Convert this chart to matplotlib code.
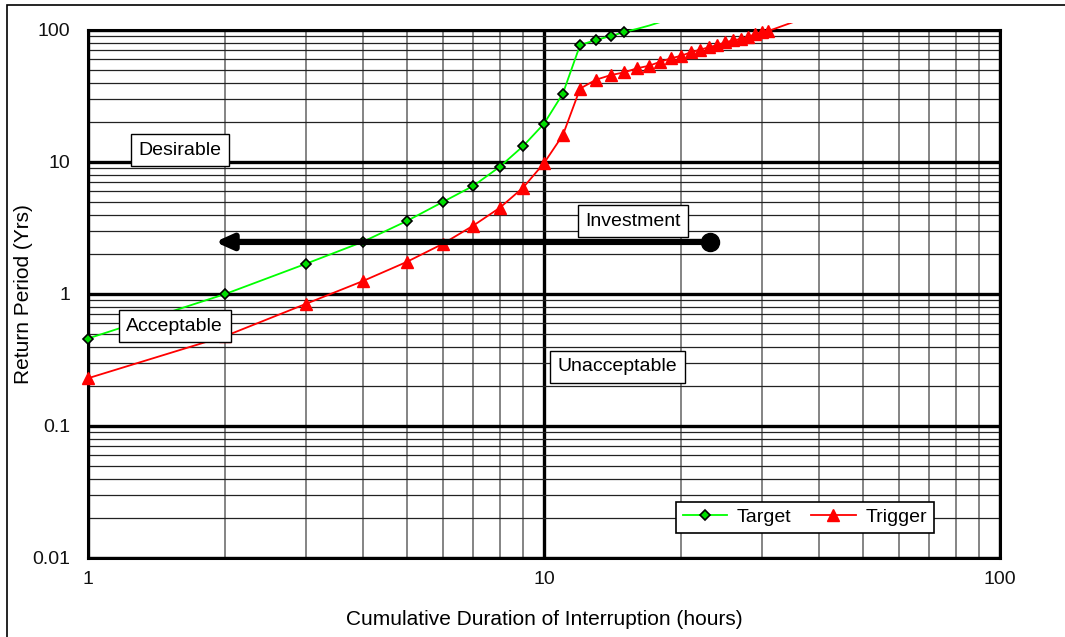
import matplotlib
matplotlib.use("Agg")
import matplotlib.pyplot as plt
from matplotlib.patches import Rectangle

plt.rcParams['font.family'] = ['Liberation Sans', 'DejaVu Sans']

# data
target_hours = [1, 2, 3, 4, 5, 6, 7, 8, 9, 10, 11, 12, 13, 14, 15]
target_period = [0.46, 1.0, 1.69, 2.48, 3.57, 4.98, 6.6, 9.2, 13.2, 19.5, 33, 77, 84, 90, 96.5]
# line carries on past the top edge
target_tail_hours = [15, 16, 17, 18]
target_tail_period = [96.5, 102, 108, 115]

trigger_hours = [1, 2, 3, 4, 5, 6, 7, 8, 9, 10, 11, 12, 13, 14,
                 15, 16, 17, 18, 19, 20, 21, 22, 23, 24, 25, 26, 27, 28, 29, 30, 31]
trigger_period = [0.23, 0.48, 0.84, 1.25, 1.75, 2.4, 3.3, 4.5, 6.4, 9.8, 16, 36, 42, 45.5,
                  47.8, 51.3, 53.6, 57.5, 61.0, 63.9, 67.8, 71.0, 74.0, 77.0, 80.7, 83.6,
                  85.5, 88.5, 92.8, 96.1, 98.3]
trigger_tail_hours = [31, 32, 33, 34, 35]
trigger_tail_period = [98.3, 102, 106, 110, 114]

arrow_start = (23.1, 2.48)
arrow_end = (1.9, 2.48)

fig = plt.figure(figsize=(10.65, 6.37), dpi=100)
ax = fig.add_axes([88 / 1065, 1 - 558 / 637, 912 / 1065, 528 / 637])

# outer chart border
fig.patches.append(Rectangle((7 / 1065, 1 - 5 / 637 - 1.0), 1.2, 1.0, transform=fig.transFigure,
                             fill=False, edgecolor='black', linewidth=1.2))

ax.set_xscale('log')
ax.set_yscale('log')
ax.set_xlim(1, 100)
ax.set_ylim(0.01, 100)

ax.grid(which='major', color='black', linewidth=2.4, zorder=1)
ax.grid(which='minor', axis='x', color='#707070', linewidth=1.2, zorder=1)
ax.grid(which='minor', axis='y', color='#222222', linewidth=0.9, zorder=1)
ax.set_axisbelow(True)
for s in ax.spines.values():
    s.set_linewidth(2.2)
    s.set_color('black')

ax.set_xticks([1, 10, 100])
ax.set_xticklabels(['1', '10', '100'])
ax.set_yticks([0.01, 0.1, 1, 10, 100])
ax.set_yticklabels(['0.01', '0.1', '1', '10', '100'])
ax.tick_params(which='both', length=0, labelsize=14, colors='#111111')
ax.tick_params(axis='x', pad=9)
ax.tick_params(axis='y', pad=13)
ax.minorticks_on()
ax.tick_params(which='minor', length=0)

ax.set_xlabel('Cumulative Duration of Interruption (hours)', fontsize=15, labelpad=16)
ax.set_ylabel('Return Period (Yrs)', fontsize=15)
ax.yaxis.set_label_coords(-55 / 912, 0.5)

# tails that run off the top edge (clipped a little above the axes)
clip = Rectangle((0, 0), 1, 1.014, transform=ax.transAxes, visible=False)
ax.add_patch(clip)
l1, = ax.plot(target_tail_hours, target_tail_period, color='#00ff00', lw=1.3, zorder=3)
l2, = ax.plot(trigger_tail_hours, trigger_tail_period, color='#ff0000', lw=1.3, zorder=3)
for ln in (l1, l2):
    ln.set_clip_path(clip)

ax.plot(trigger_hours, trigger_period, color='#ff0000', lw=1.3, marker='^', ms=8.5,
        mfc='#ff0000', mec='#ff0000', label='Trigger', zorder=4, clip_on=False)
ax.plot(target_hours, target_period, color='#00ff00', lw=1.3, marker='D', ms=5.5,
        mfc='#00dd00', mec='black', mew=1.2, label='Target', zorder=5, clip_on=False)

# investment arrow
ax.annotate('', xy=arrow_end, xytext=arrow_start,
            arrowprops=dict(arrowstyle='-|>,head_length=1.0,head_width=0.45',
                            color='black', lw=4.5, shrinkA=0, shrinkB=0), zorder=6)
ax.plot([arrow_start[0]], [arrow_start[1]], 'o', color='black', ms=13, zorder=7)

box = dict(boxstyle='square,pad=0.38', facecolor='white', edgecolor='black', linewidth=1.0)
ax.text(1.59, 12.3, 'Desirable', fontsize=14, ha='center', va='center', bbox=box, zorder=8)
ax.text(1.55, 0.57, 'Acceptable', fontsize=14, ha='center', va='center', bbox=box, zorder=8)
ax.text(15.7, 3.57, 'Investment', fontsize=14, ha='center', va='center', bbox=box, zorder=8)
ax.text(14.5, 0.28, 'Unacceptable', fontsize=14, ha='center', va='center', bbox=box, zorder=8)

h, lab = ax.get_legend_handles_labels()
leg = ax.legend(h[::-1], lab[::-1], ncol=2, loc='lower right',
                bbox_to_anchor=((934 - 88) / 912, (558 - 533) / 528), borderaxespad=0,
                fontsize=14, frameon=True, fancybox=False, edgecolor='black', framealpha=1,
                handlelength=2.3, columnspacing=1.0, borderpad=0.35, handletextpad=0.5)
leg.get_frame().set_linewidth(1.2)
leg.set_zorder(10)

fig.savefig('out.png', dpi=100)
